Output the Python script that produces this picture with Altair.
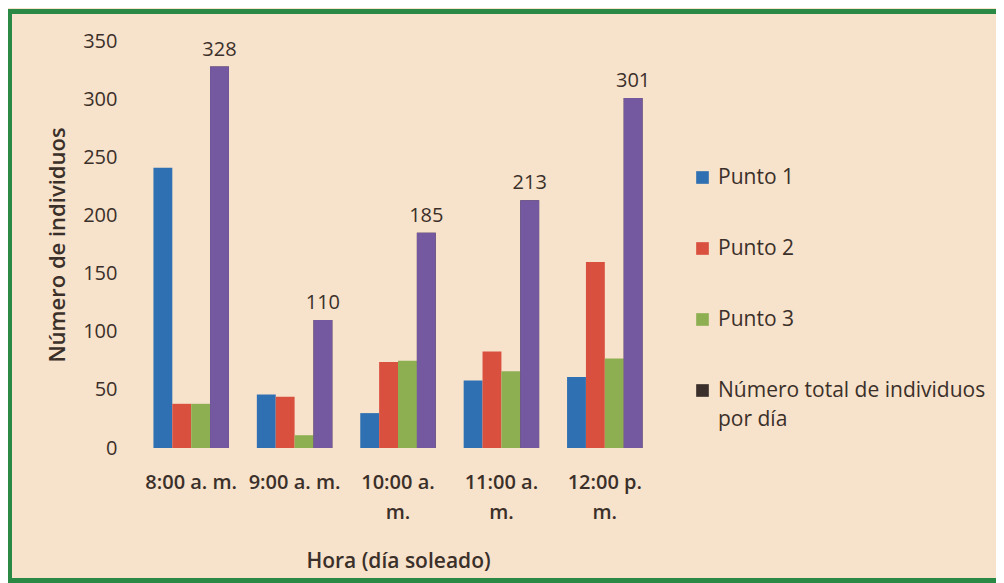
import altair as alt
import pandas as pd

horas = ["8:00 a. m.", "9:00 a. m.", "10:00 a. m.", "11:00 a. m.", "12:00 p. m."]
series = ["Punto 1", "Punto 2", "Punto 3", "Número total de individuos por día"]
punto1 = [241, 46, 30, 58, 61]
punto2 = [38, 44, 74, 83, 160]
punto3 = [38, 11, 75, 66, 77]
total = [328, 110, 185, 213, 301]
colores_leyenda = ["#2f70b2", "#d9503f", "#8daf52", "#3a2f2a"]
color_total = "#7459a0"

rows = []
for i, h in enumerate(horas):
    for s, vals in zip(series, [punto1, punto2, punto3, total]):
        rows.append({"hora": h, "serie": s, "valor": vals[i]})
df = pd.DataFrame(rows)

FONT = "Open Sans"
TXT = "#3b3029"
TOTAL = series[3]

base = alt.Chart(df)

xenc = alt.X("hora:N", sort=horas,
             scale=alt.Scale(paddingInner=0.27, paddingOuter=0.13),
             axis=alt.Axis(title="Hora (día soleado)", labelAngle=0, ticks=False, domain=False,
                           labelPadding=24, titlePadding=28, labelLineHeight=30, titleFontSize=21,
                           labelExpr="indexof(datum.label, '1') == 0 ? [slice(datum.label, 0, 8), 'm.'] : datum.label"))
yenc = alt.Y("valor:Q", scale=alt.Scale(domain=[0, 350]),
             axis=alt.Axis(title="Número de individuos", values=[0, 50, 100, 150, 200, 250, 300, 350],
                           ticks=False, domain=False, grid=False, labelPadding=23, titlePadding=13,
                           titleFontSize=22))
xoff = alt.XOffset("serie:N", sort=series, scale=alt.Scale(paddingInner=0))

bars = base.mark_bar().encode(
    x=xenc, y=yenc, xOffset=xoff,
    color=alt.Color("serie:N", sort=series, scale=alt.Scale(domain=series, range=colores_leyenda),
                    legend=alt.Legend(title=None, orient="none", legendX=552, legendY=126,
                                      symbolType="square", symbolSize=160,
                                      symbolStrokeWidth=0, rowPadding=49,
                                      labelOffset=5, labelLimit=400, labelFontSize=21,
                                      labelFont=FONT, labelColor=TXT, labelBaseline="middle",
                                      labelExpr="datum.label == '" + TOTAL + "' ? ['Número total de individuos', 'por día'] : datum.label")),
)

total_bars = base.transform_filter(alt.datum.serie == TOTAL).mark_bar(color=color_total).encode(
    x=alt.X("hora:N", sort=horas), y="valor:Q", xOffset=alt.XOffset("serie:N", sort=series),
)

labels = base.transform_filter(alt.datum.serie == TOTAL).mark_text(
    dy=-17, fontSize=20, font=FONT, color=TXT
).encode(
    x=alt.X("hora:N", sort=horas),
    xOffset=alt.XOffset("serie:N", sort=series),
    y="valor:Q",
    text="valor:Q",
)

frame_df = pd.DataFrame({"a": [0]})
frame_left = alt.Chart(frame_df).mark_rule(color="#2a8a45", strokeWidth=5).encode(
    x=alt.value(-130.5), y=alt.value(-32), y2=alt.value(542)
)
frame_top = alt.Chart(frame_df).mark_rule(color="#2a8a45", strokeWidth=5).encode(
    x=alt.value(-133), x2=alt.value(860), y=alt.value(-29.5)
)
frame_bottom = alt.Chart(frame_df).mark_rule(color="#2a8a45", strokeWidth=5).encode(
    x=alt.value(-133), x2=alt.value(860), y=alt.value(539.5)
)

chart = alt.layer(bars, total_bars, labels, frame_left, frame_top, frame_bottom).properties(
    width=516, height=407,
    autosize=alt.AutoSizeParams(type="none"),
    padding={"left": 132, "top": 33, "right": 340, "bottom": 135},
    background="#f7e2cc",
).configure(
    style={"guide-label": {"lineHeight": 29}}
).configure_view(stroke=None).configure_axis(
    labelFont=FONT, titleFont=FONT, labelFontSize=20, titleFontSize=20,
    labelColor=TXT, titleColor=TXT, titleFontWeight=600,
).configure_axisX(labelFontWeight=600)

chart.save("out.html", embed_options={"renderer": "svg", "actions": False})
